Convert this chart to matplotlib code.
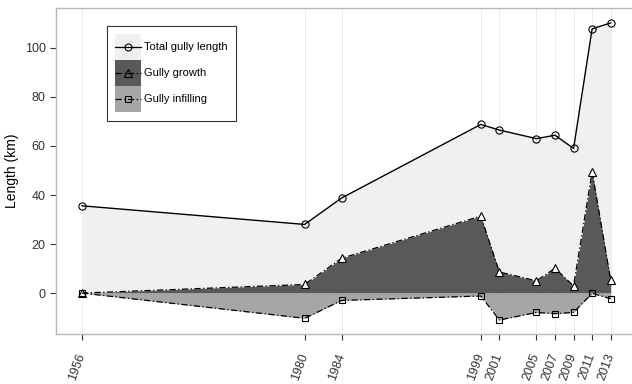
import matplotlib

matplotlib.use("Agg")
import matplotlib.pyplot as plt  # noqa: E402
from matplotlib.lines import Line2D  # noqa: E402
from matplotlib.patches import Rectangle  # noqa: E402
from matplotlib.legend_handler import HandlerBase  # noqa: E402

plt.rcParams["font.family"] = ["Liberation Sans", "DejaVu Sans"]

years = [1956, 1980, 1984, 1999, 2001, 2005, 2007, 2009, 2011, 2013]
total_length = [35.6, 28.0, 38.8, 68.8, 66.5, 63.0, 64.4, 59.0, 107.8, 110.2]
growth = [0.0, 3.5, 14.2, 31.4, 8.6, 5.0, 10.1, 2.9, 49.5, 5.3]
infilling = [0.0, -10.3, -3.0, -1.2, -11.0, -7.9, -8.4, -7.9, -0.1, -2.3]
labels = ["Total gully length", "Gully growth", "Gully infilling"]

c_total, c_growth, c_infill = "#f0f0f0", "#595959", "#a6a6a6"
dashdot = (0, (5, 2, 1, 2))


class FilledKey(HandlerBase):
    """Legend key: a filled square with the series line and marker across its middle."""

    def create_artists(self, legend, orig_handle, xdescent, ydescent,
                       width, height, fontsize, trans):
        fill, ls, marker, ms = orig_handle
        yc = 0.3 * fontsize
        x0 = -xdescent
        rect = Rectangle((x0, yc - height / 2), width, height,
                         facecolor=fill, edgecolor="none", transform=trans)
        line = Line2D([x0, x0 + width], [yc, yc], color="black", lw=0.9, ls=ls,
                      transform=trans)
        mark = Line2D([x0 + width / 2], [yc], marker=marker, ms=ms, mfc="none",
                      mec="black", mew=0.8, ls="none", transform=trans)
        return [rect, line, mark]


fig = plt.figure(figsize=(6.32, 3.84), dpi=100)
ax = fig.add_axes([56 / 632, 50 / 384, 576 / 632, 326 / 384])

ax.fill_between(years, 0, total_length, color=c_total, lw=0, zorder=1)
ax.fill_between(years, 0, growth, color=c_growth, lw=0, zorder=2)
ax.fill_between(years, 0, infilling, color=c_infill, lw=0, zorder=2)

ax.plot(years, total_length, color="black", lw=1, marker="o", ms=5.2,
        mfc="none", mec="black", mew=0.8, zorder=4)
ax.plot(years, growth, color="black", lw=0.9, ls=dashdot, marker="^", ms=6,
        mfc="white", mec="black", mew=0.8, zorder=4)
ax.plot(years, infilling, color="black", lw=0.9, ls=dashdot, marker="s", ms=4.6,
        mfc="none", mec="black", mew=0.8, zorder=4)

for y in years:
    ax.axvline(y, color="#ebebeb", lw=0.6, zorder=0)

ax.set_xlim(1953.2, 2015.3)
ax.set_ylim(-16.7, 116.3)
ax.set_xticks(years)
ax.set_xticklabels([str(y) for y in years], rotation=70, ha="right",
                   va="center", rotation_mode="anchor")
ax.set_yticks([0, 20, 40, 60, 80, 100])
ax.tick_params(axis="both", labelsize=9, labelcolor="#333333", color="#333333",
               length=4, width=0.8)
ax.tick_params(axis="x", pad=10)
ax.set_ylabel("Length (km)", fontsize=10, labelpad=4)

for side in ("left", "bottom", "top"):
    ax.spines[side].set_color("#b8b8b8")
    ax.spines[side].set_linewidth(1)
ax.spines["right"].set_visible(False)

keys = [
    (c_total, "-", "o", 5),
    (c_growth, dashdot, "^", 6),
    (c_infill, dashdot, "s", 5),
]
leg = ax.legend(keys, labels, handler_map={tuple: FilledKey()},
                loc="upper left", bbox_to_anchor=(0.0885, 0.945), borderaxespad=0,
                fontsize=8, handlelength=2.35, handleheight=3.22, labelspacing=0,
                handletextpad=0.25, borderpad=0.75, fancybox=False, framealpha=1)
leg.get_frame().set_edgecolor("#333333")
leg.get_frame().set_linewidth(0.8)

fig.savefig("out.png", dpi=100)
